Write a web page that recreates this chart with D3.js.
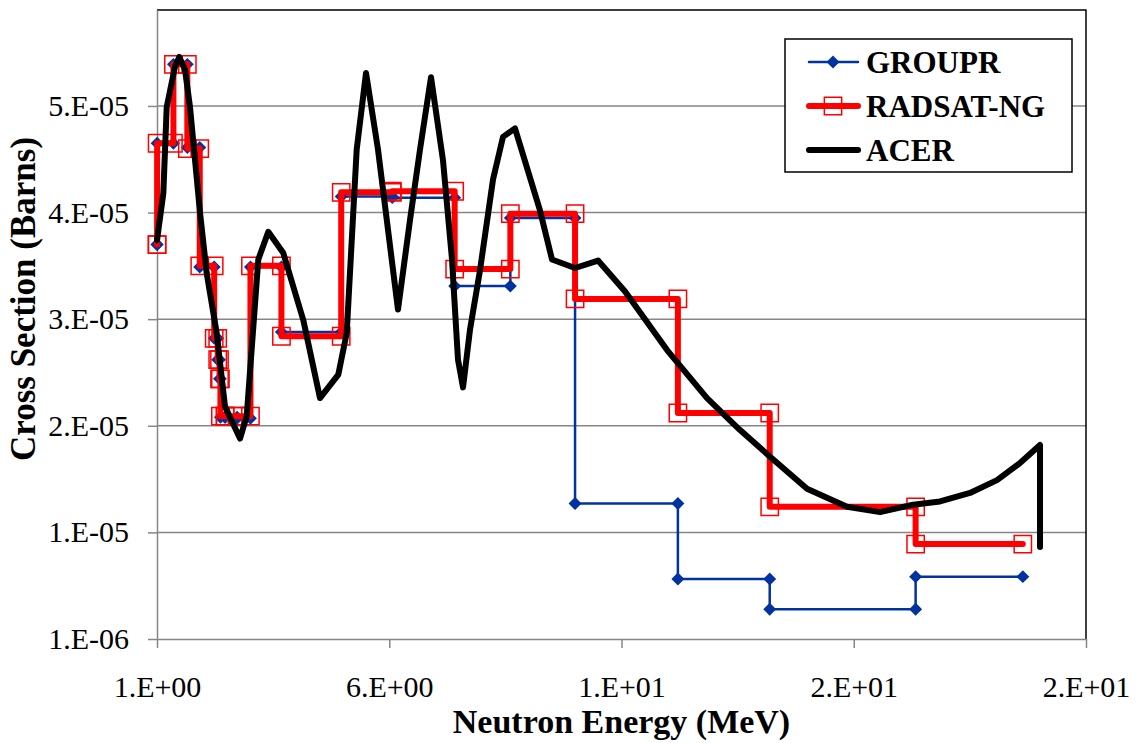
<!DOCTYPE html>
<html lang="en">
<head>
<meta charset="utf-8">
<title>Cross Section vs Neutron Energy</title>
<script src="https://cdn.jsdelivr.net/npm/d3@7"></script>
<style>
  body { margin: 0; background: #fff; }
  svg text { font-family: "Liberation Serif", "Times New Roman", serif; fill: #000; }
</style>
</head>
<body>
<script>
// energy group boundaries (MeV)
var groupBounds = [1.0, 1.0026, 1.3534, 1.6530, 1.9205, 2.2313, 2.3069, 2.3457, 2.3653,
                   2.4660, 2.7253, 3.0119, 3.6788, 4.9659, 6.0653, 7.4082, 8.6071, 10.0,
                   12.214, 14.191, 17.332, 19.640];

// group-averaged cross sections (barns), one per group
var grouprValues = [3.80e-5, 4.75e-5, 5.49e-5, 4.71e-5, 3.59e-5, 2.92e-5, 2.72e-5, 2.54e-5,
                    2.18e-5, 2.18e-5, 2.17e-5, 3.59e-5, 2.98e-5, 4.25e-5, 4.24e-5, 3.41e-5,
                    4.05e-5, 1.37e-5, 6.63e-6, 3.79e-6, 6.85e-6];
var radsatValues = [3.80e-5, 4.75e-5, 5.49e-5, 4.70e-5, 3.60e-5, 2.92e-5, 2.72e-5, 2.54e-5,
                    2.19e-5, 2.19e-5, 2.19e-5, 3.60e-5, 2.94e-5, 4.29e-5, 4.30e-5, 3.57e-5,
                    4.09e-5, 3.29e-5, 2.22e-5, 1.34e-5, 9.90e-6];

// pointwise ACER curve
var acerEnergy = [1.0, 1.136, 1.209, 1.388, 1.480, 1.603, 1.710, 1.926, 2.070, 2.285, 2.464,
                  2.787, 2.931, 3.181, 3.396, 3.719, 4.150, 4.509, 4.903, 5.084, 5.299, 5.500,
                  5.758, 5.973, 6.188, 6.447, 6.662, 6.899, 7.157, 7.351, 7.480, 7.588, 7.738,
                  7.954, 8.234, 8.449, 8.707, 9.245, 9.504, 10.0, 10.495, 11.077, 11.981,
                  12.841, 13.552, 14.198, 14.994, 15.855, 16.566, 17.276, 17.857, 18.503,
                  19.084, 19.579, 20.010, 20.010];
var acerValues = [3.84e-5, 4.28e-5, 5.09e-5, 5.47e-5, 5.56e-5, 5.44e-5, 5.09e-5, 4.10e-5,
                  3.53e-5, 2.97e-5, 2.28e-5, 1.98e-5, 2.19e-5, 3.66e-5, 3.92e-5, 3.72e-5,
                  3.09e-5, 2.36e-5, 2.58e-5, 2.97e-5, 4.69e-5, 5.41e-5, 4.69e-5, 3.94e-5,
                  3.19e-5, 4.03e-5, 4.69e-5, 5.37e-5, 4.59e-5, 3.66e-5, 2.72e-5, 2.46e-5,
                  3.00e-5, 3.56e-5, 4.41e-5, 4.81e-5, 4.89e-5, 4.12e-5, 3.66e-5, 3.58e-5,
                  3.65e-5, 3.36e-5, 2.81e-5, 2.36e-5, 2.06e-5, 1.81e-5, 1.51e-5, 1.34e-5,
                  1.29e-5, 1.36e-5, 1.39e-5, 1.47e-5, 1.59e-5, 1.75e-5, 1.92e-5, 9.63e-6];

var xTicks = [1, 6, 11, 16, 21];
var yTicks = [1e-6, 1.1e-5, 2.1e-5, 3.1e-5, 4.1e-5, 5.1e-5];
var seriesNames = ["GROUPR", "RADSAT-NG", "ACER"];

var w = 1139, h = 743;
// plot area edges (note: "top" is reserved on window)
var plotL = 157, plotR = 1086, plotT = 10, plotB = 639;

var blue = "#0033a0", red = "#ff0000", grid = "#868686";

// excel style "0.E+00" labels
var sciFormat = function(v) {
  var e = Math.floor(Math.log10(Math.abs(v)) + 1e-9);
  var m = Math.round(v / Math.pow(10, e));
  if (m === 10) { m = 1; e++; }
  var ae = Math.abs(e);
  return m + ".E" + (e < 0 ? "-" : "+") + (ae < 10 ? "0" : "") + ae;
};

var x = d3.scaleLinear().domain([1, 21]).range([plotL, plotR]);
var y = d3.scaleLinear().domain([1e-6, 6e-5]).range([plotB, plotT]);

var svg = d3.select("body").append("svg")
  .attr("width", w)
  .attr("height", h);

svg.append("rect").attr("width", w).attr("height", h).attr("fill", "#fff");

// gridlines
svg.append("g").selectAll("line")
  .data(yTicks.slice(1))
  .enter().append("line")
  .attr("x1", plotL).attr("x2", plotR)
  .attr("y1", function(d) { return y(d); })
  .attr("y2", function(d) { return y(d); })
  .attr("stroke", grid).attr("stroke-width", 1.5);

// top / right border of the plot area
svg.append("path")
  .attr("d", "M" + plotL + "," + plotT + "H" + plotR + "V" + plotB)
  .attr("fill", "none").attr("stroke", "#000").attr("stroke-width", 1.5);

// axes
var yAxis = d3.axisLeft(y).tickValues(yTicks).tickFormat(sciFormat)
  .tickSize(9).tickSizeOuter(0).tickPadding(19);
var xAxis = d3.axisBottom(x).tickValues(xTicks).tickFormat(sciFormat)
  .tickSize(9).tickSizeOuter(0).tickPadding(28);

var gy = svg.append("g").attr("transform", "translate(" + plotL + ",0)").call(yAxis);
var gx = svg.append("g").attr("transform", "translate(0," + plotB + ")").call(xAxis);

[gx, gy].forEach(function(g) {
  g.select(".domain").attr("stroke", grid).attr("stroke-width", 1.5);
  g.selectAll(".tick line").attr("stroke", grid).attr("stroke-width", 1.5);
  g.selectAll(".tick text").attr("font-size", 30)
    .attr("font-family", "'Liberation Serif', 'Times New Roman', serif").attr("fill", "#000");
});

// axis titles
svg.append("text")
  .attr("x", (plotL + plotR) / 2).attr("y", 733)
  .attr("text-anchor", "middle")
  .attr("font-size", 34).attr("font-weight", "bold")
  .text("Neutron Energy (MeV)");

svg.append("text")
  .attr("transform", "translate(35,299) rotate(-90)")
  .attr("text-anchor", "middle")
  .attr("font-size", 35).attr("font-weight", "bold")
  .text("Cross Section (Barns)");

// turn group values into step points
var stepPoints = function(values) {
  var pts = [];
  values.forEach(function(v, i) {
    pts.push([groupBounds[i], v]);
    pts.push([groupBounds[i + 1], v]);
  });
  return pts;
};

var grouprPts = stepPoints(grouprValues);
var radsatPts = stepPoints(radsatValues);
var acerPts = acerEnergy.map(function(e, i) { return [e, acerValues[i]]; });

var line = d3.line()
  .x(function(d) { return x(d[0]); })
  .y(function(d) { return y(d[1]); });

var plot = svg.append("g");

var diamond = d3.symbol().type(d3.symbolSquare).size(84);
var square = d3.symbol().type(d3.symbolSquare).size(300);

// GROUPR
plot.append("path").attr("d", line(grouprPts))
  .attr("fill", "none").attr("stroke", blue).attr("stroke-width", 2.5)
  .attr("stroke-linejoin", "round");
plot.append("g").selectAll("path")
  .data(grouprPts).enter().append("path")
  .attr("d", diamond)
  .attr("transform", function(d) { return "translate(" + x(d[0]) + "," + y(d[1]) + ") rotate(45)"; })
  .attr("fill", blue);

// RADSAT-NG
plot.append("path").attr("d", line(radsatPts))
  .attr("fill", "none").attr("stroke", red).attr("stroke-width", 6)
  .attr("stroke-linejoin", "round").attr("stroke-linecap", "round");
plot.append("g").selectAll("path")
  .data(radsatPts).enter().append("path")
  .attr("d", square)
  .attr("transform", function(d) { return "translate(" + x(d[0]) + "," + y(d[1]) + ")"; })
  .attr("fill", "none").attr("stroke", red).attr("stroke-width", 1.5);

// ACER
plot.append("path").attr("d", line(acerPts))
  .attr("fill", "none").attr("stroke", "#000").attr("stroke-width", 6)
  .attr("stroke-linejoin", "round").attr("stroke-linecap", "round");

// legend
var legend = svg.append("g");
legend.append("rect")
  .attr("x", 785).attr("y", 39).attr("width", 287).attr("height", 133)
  .attr("fill", "#fff").attr("stroke", "#000").attr("stroke-width", 1.5);

var legendY = [62, 106, 150];
var legendStyle = [
  { color: blue, width: 2.5 },
  { color: red, width: 6 },
  { color: "#000", width: 6 }
];

seriesNames.forEach(function(name, i) {
  var ly = legendY[i];
  legend.append("line")
    .attr("x1", 809).attr("x2", 858).attr("y1", ly).attr("y2", ly)
    .attr("stroke", legendStyle[i].color).attr("stroke-width", legendStyle[i].width)
    .attr("stroke-linecap", "round");
  if (i === 0) {
    legend.append("path").attr("d", diamond)
      .attr("transform", "translate(833," + ly + ") rotate(45)").attr("fill", blue);
  } else if (i === 1) {
    legend.append("path").attr("d", square)
      .attr("transform", "translate(833," + ly + ")")
      .attr("fill", "none").attr("stroke", red).attr("stroke-width", 1.5);
  }
  legend.append("text")
    .attr("x", 866).attr("y", ly + 11)
    .attr("font-size", 31).attr("font-weight", "bold")
    .text(name);
});
</script>
</body>
</html>
